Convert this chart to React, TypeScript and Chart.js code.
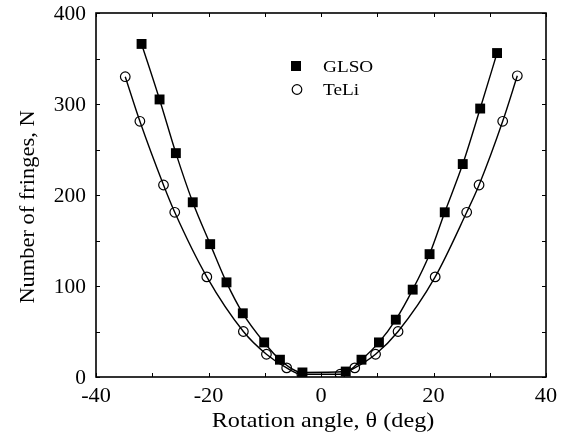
import React, { useEffect, useRef } from "react";
import { Chart, registerables } from "chart.js";

Chart.register(...registerables);

const glsoX = [-31.9, -28.7, -25.8, -22.8, -19.7, -16.8, -13.9, -10.1, -7.3, -3.3, 4.4, 7.2, 10.3, 13.3, 16.3, 19.3, 22.0, 25.2, 28.3, 31.3];
const glsoY = [366, 305, 246, 192, 146, 104, 70, 38, 19, 5, 6, 19, 38, 63, 96, 135, 181, 234, 295, 356];
const teliX = [-34.8, -32.2, -28.0, -26.0, -20.3, -13.8, -9.7, -6.1, -3.4, 3.4, 6.0, 9.7, 13.7, 20.3, 25.9, 28.1, 32.3, 34.9];
const teliY = [330, 281, 211, 181, 110, 50, 25, 10, 3, 3, 10, 25, 50, 110, 181, 211, 281, 331];

const xTicks = [-40, -20, 0, 20, 40];
const yTicks = [0, 100, 200, 300, 400];
const seriesLabels = ["GLSO", "TeLi"];
const xTitle = "Rotation angle, θ (deg)";
const yTitle = "Number of fringes, N";

const FONT = "'Liberation Serif', 'DejaVu Serif', serif";

function stretchedText(ctx: any, text: string, x: number, y: number, align: string, sx: number, rot = 0) {
  ctx.save();
  ctx.translate(x, y);
  if (rot) ctx.rotate(rot);
  ctx.scale(sx, 1);
  ctx.textAlign = align;
  ctx.fillText(text, 0, 0);
  ctx.restore();
}

const framePlugin = {
  id: "frameTicks",
  beforeDatasetsDraw(chart: any) {
    const { ctx, chartArea: a, scales } = chart;
    const xs = scales.x;
    const ys = scales.y;
    ctx.save();
    ctx.strokeStyle = "#000";
    ctx.lineWidth = 1.6;
    ctx.strokeRect(a.left, a.top, a.right - a.left, a.bottom - a.top);
    ctx.lineWidth = 1;
    const tl = 4;
    for (let v = -40; v <= 40; v += 10) {
      const px = Math.round(xs.getPixelForValue(v)) + 0.5;
      ctx.beginPath();
      ctx.moveTo(px, a.bottom);
      ctx.lineTo(px, a.bottom - tl);
      ctx.moveTo(px, a.top);
      ctx.lineTo(px, a.top + tl);
      ctx.stroke();
    }
    for (let v = 0; v <= 400; v += 50) {
      const py = Math.round(ys.getPixelForValue(v)) + 0.5;
      ctx.beginPath();
      ctx.moveTo(a.left, py);
      ctx.lineTo(a.left + tl, py);
      ctx.moveTo(a.right, py);
      ctx.lineTo(a.right - tl, py);
      ctx.stroke();
    }
    // axis text
    ctx.fillStyle = "#000";
    ctx.font = "21px " + FONT;
    ctx.textBaseline = "middle";
    xTicks.forEach((v) => {
      stretchedText(ctx, String(v), xs.getPixelForValue(v), a.bottom + 19, "center", 1.06);
    });
    yTicks.forEach((v) => {
      stretchedText(ctx, String(v), a.left - 10, ys.getPixelForValue(v) + 1, "right", 1.02);
    });
    ctx.font = "22px " + FONT;
    ctx.textBaseline = "alphabetic";
    stretchedText(ctx, xTitle, (a.left + a.right) / 2 + 2, a.bottom + 50, "center", 1.1);
    ctx.textBaseline = "middle";
    stretchedText(ctx, yTitle, 28, 207, "center", 1.02, -Math.PI / 2);
    ctx.restore();
  },
  afterDraw(chart: any) {
    const { ctx, chartArea: a } = chart;
    ctx.save();
    ctx.fillStyle = "#000";
    ctx.strokeStyle = "#000";
    const lx = a.left + 200;
    const y1 = a.top + 53;
    const y2 = a.top + 76.5;
    ctx.fillRect(lx - 5, y1 - 5, 10, 10);
    ctx.lineWidth = 1.2;
    ctx.beginPath();
    ctx.arc(lx + 1, y2, 4.8, 0, Math.PI * 2);
    ctx.stroke();
    ctx.font = "17.5px " + FONT;
    ctx.textBaseline = "middle";
    ctx.save();
    ctx.translate(lx + 27, 0);
    ctx.scale(1.1, 1);
    ctx.textAlign = "left";
    ctx.fillText(seriesLabels[0], 0, y1 + 1);
    ctx.fillText(seriesLabels[1], 0, y2 + 1);
    ctx.restore();
    ctx.restore();
  },
};

export default function App() {
  const ref = useRef<HTMLCanvasElement | null>(null);
  useEffect(() => {
    if (!ref.current) return;
    const chart = new Chart(ref.current, {
      type: "scatter",
      data: {
        datasets: [
          {
            label: seriesLabels[0],
            data: glsoX.map((x, i) => ({ x, y: glsoY[i] })),
            showLine: true,
            cubicInterpolationMode: "monotone",
            borderColor: "#000",
            borderWidth: 1.4,
            pointStyle: "rect",
            pointRadius: 7,
            pointBackgroundColor: "#000",
            pointBorderColor: "#000",
            pointBorderWidth: 0,
          },
          {
            label: seriesLabels[1],
            data: teliX.map((x, i) => ({ x, y: teliY[i] })),
            showLine: true,
            cubicInterpolationMode: "monotone",
            borderColor: "#000",
            borderWidth: 1.4,
            pointStyle: "circle",
            pointRadius: 4.8,
            pointBackgroundColor: "rgba(0,0,0,0)",
            pointBorderColor: "#000",
            pointBorderWidth: 1.2,
          },
        ],
      },
      options: {
        animation: false,
        responsive: false,
        layout: { padding: { left: 8, right: 19, top: 13, bottom: 18 } },
        plugins: { legend: { display: false }, tooltip: { enabled: false } },
        scales: {
          x: {
            type: "linear",
            min: -40,
            max: 40,
            afterBuildTicks: (s: any) => {
              s.ticks = xTicks.map((v) => ({ value: v }));
            },
            afterFit: (s: any) => {
              s.height = 43;
            },
            grid: { display: false },
            border: { display: false },
            ticks: { display: false },
          },
          y: {
            type: "linear",
            min: 0,
            max: 400,
            afterBuildTicks: (s: any) => {
              s.ticks = yTicks.map((v) => ({ value: v }));
            },
            afterFit: (s: any) => {
              s.width = 88;
            },
            grid: { display: false },
            border: { display: false },
            ticks: { display: false },
          },
        },
      },
      plugins: [framePlugin],
    } as any);
    return () => chart.destroy();
  }, []);
  return (
    <div style={{ position: "fixed", left: 0, top: 0, width: 565, height: 438, background: "#fff" }}>
      <canvas ref={ref} width={565} height={438} style={{ display: "block" }} />
    </div>
  );
}
